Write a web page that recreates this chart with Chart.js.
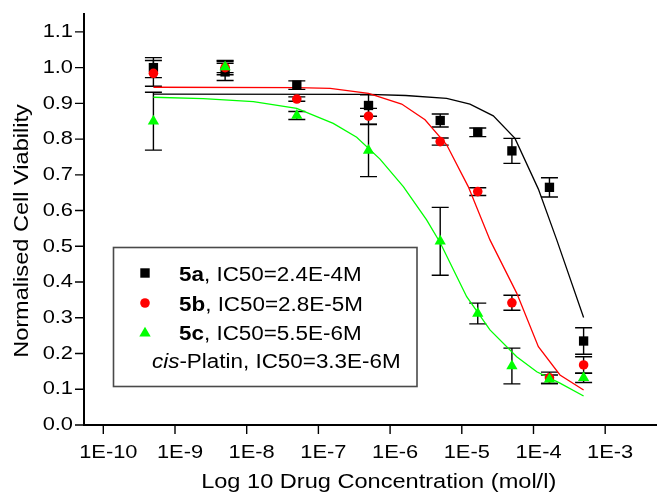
<!DOCTYPE html>
<html>
<head>
<meta charset="utf-8">
<script src="https://cdn.jsdelivr.net/npm/chart.js@4.4.1/dist/chart.umd.min.js"></script>
<style>
html,body{margin:0;padding:0;overflow:hidden;background:#fff}
canvas{display:block}
</style>
</head>
<body>
<canvas id="c" width="657" height="494"></canvas>
<script>
// ---------------- data ----------------
const concentrations = [5e-10, 5e-9, 5e-8, 5e-7, 5e-6, 1.67e-5, 5e-5, 1.67e-4, 5e-4];

const viability5a = [1.000, 0.988, 0.951, 0.894, 0.852, 0.819, 0.767, 0.665, 0.235];
const error5a     = [0.028, 0.024, 0.012, 0.030, 0.018, 0.012, 0.035, 0.027, 0.037];
const viability5b = [0.984, 1.000, 0.912, 0.864, 0.793, 0.653, 0.342, 0.132, 0.168];
const error5b     = [0.036, 0.020, 0.006, 0.022, 0.010, 0.011, 0.021, 0.016, 0.023];
const viability5c = [0.850, 1.002, 0.866, 0.768, 0.514, 0.312, 0.165, 0.128, 0.132];
const error5c     = [0.081, 0.016, 0.011, 0.073, 0.095, 0.029, 0.050, 0.012, 0.013];

// fitted curves
const fit5aX = [5e-10, 5e-7, 1.65e-6, 6.15e-6, 1.3e-5, 2.75e-5, 5.52e-5, 1.17e-4, 2.11e-4, 5e-4];
const fit5aY = [0.926, 0.925, 0.922, 0.914, 0.898, 0.865, 0.802, 0.660, 0.518, 0.301];
const fit5bX = [5e-10, 5e-8, 1.46e-7, 5e-7, 1.45e-6, 3.07e-6, 6.15e-6, 1.23e-5, 2.47e-5, 5.83e-5, 1.17e-4, 2.34e-4, 5e-4];
const fit5bY = [0.945, 0.944, 0.942, 0.928, 0.898, 0.854, 0.784, 0.667, 0.518, 0.369, 0.219, 0.140, 0.098];
const fit5cX = [5e-10, 2.48e-9, 1.24e-8, 4.98e-8, 1.61e-7, 3.42e-7, 7.23e-7, 1.53e-6, 3.23e-6, 5e-6, 1.17e-5, 2.47e-5, 5.83e-5, 1.11e-4, 2.34e-4, 5e-4];
const fit5cY = [0.917, 0.913, 0.905, 0.886, 0.844, 0.805, 0.744, 0.667, 0.574, 0.510, 0.359, 0.266, 0.191, 0.149, 0.117, 0.081];

// ticks
const xMajorTicks = [1e-10, 1e-9, 1e-8, 1e-7, 1e-6, 1e-5, 1e-4, 1e-3];
const xTickLabels = ['1E-10', '1E-9', '1E-8', '1E-7', '1E-6', '1E-5', '1E-4', '1E-3'];
const yTickValues = [0, 0.1, 0.2, 0.3, 0.4, 0.5, 0.6, 0.7, 0.8, 0.9, 1.0, 1.1];
const yTickLabels = ['0.0', '0.1', '0.2', '0.3', '0.4', '0.5', '0.6', '0.7', '0.8', '0.9', '1.0', '1.1'];

// legend
const legendCompounds = ['5a', '5b', '5c'];
const legendIC50 = ['2.4E-4M', '2.8E-5M', '5.5E-6M'];
const cisplatinIC50 = '3.3E-6M';

const xTitle = 'Log 10 Drug Concentration (mol/l)';
const yTitle = 'Normalised Cell Viability';

// ---------------- style ----------------
const FONT = '"Liberation Sans", Arial, Helvetica, sans-serif';
const STRETCH = 1.15;
const xMin = 5.38e-11, xMax = 5.28e-3;
const yMin = 0, yMax = 1.15;

const canvas = document.getElementById('c');
const ctx = canvas.getContext('2d');
// wide Helvetica look: stretch every text run horizontally around its anchor
(function (c) {
  const f = c.fillText.bind(c), m = c.measureText.bind(c);
  c.fillText = function (t, x, y, mw) {
    c.save(); c.translate(x, y); c.scale(STRETCH, 1);
    if (mw === undefined || mw === null || !isFinite(mw)) f(t, 0, 0); else f(t, 0, 0, mw / STRETCH);
    c.restore();
  };
  c.measureText = function (t) {
    const r = m(t);
    return {
      width: r.width * STRETCH,
      actualBoundingBoxAscent: r.actualBoundingBoxAscent,
      actualBoundingBoxDescent: r.actualBoundingBoxDescent,
      actualBoundingBoxLeft: r.actualBoundingBoxLeft * STRETCH,
      actualBoundingBoxRight: r.actualBoundingBoxRight * STRETCH,
      fontBoundingBoxAscent: r.fontBoundingBoxAscent,
      fontBoundingBoxDescent: r.fontBoundingBoxDescent
    };
  };
})(ctx);

const close = (a, b) => Math.abs(a - b) <= Math.abs(b) * 1e-6 + 1e-12;
const xTickValues = [];
for (let e = -11; e <= -3; e++) {
  for (let k = 1; k <= 9; k++) {
    const v = k * Math.pow(10, e);
    if (v >= xMin && v <= xMax) xTickValues.push(v);
  }
}
const yAllTicks = [];
for (let i = 0; i <= 23; i++) yAllTicks.push(Math.round(i * 5) / 100);

const isMajorX = v => xMajorTicks.some(m => close(v, m));
const isMajorY = v => yTickValues.some(m => Math.abs(v - m) < 1e-9);

const pts = (xs, ys) => xs.map((x, i) => ({ x: x, y: ys[i] }));

const errorSeries = [
  { values: viability5a, errors: error5a },
  { values: viability5b, errors: error5b },
  { values: viability5c, errors: error5c }
];

const decorations = {
  id: 'decorations',
  beforeDatasetsDraw(chart) {
    const { ctx: c, scales: { x, y } } = chart;
    c.save();
    c.strokeStyle = '#000';
    c.lineWidth = 1.4;
    errorSeries.forEach(s => {
      concentrations.forEach((conc, i) => {
        const px = x.getPixelForValue(conc);
        const top = y.getPixelForValue(s.values[i] + s.errors[i]);
        const bot = y.getPixelForValue(s.values[i] - s.errors[i]);
        c.beginPath();
        c.moveTo(px, top); c.lineTo(px, bot);
        c.moveTo(px - 8.5, top); c.lineTo(px + 8.5, top);
        c.moveTo(px - 8.5, bot); c.lineTo(px + 8.5, bot);
        c.stroke();
      });
    });
    c.restore();
  },
  afterDraw(chart) {
    const { ctx: c, scales: { x, y }, chartArea: a } = chart;
    c.save();
    // tick marks
    c.strokeStyle = '#000';
    c.lineWidth = 1.4;
    c.beginPath();
    x.ticks.forEach(t => {
      const px = x.getPixelForValue(t.value);
      if (px < a.left + 1 || px > a.right + 0.5) return;
      const len = isMajorX(t.value) ? 8 : 5;
      c.moveTo(px, a.bottom + 1); c.lineTo(px, a.bottom + 1 + len);
    });
    y.ticks.forEach(t => {
      const py = y.getPixelForValue(t.value);
      const len = isMajorY(t.value) ? 8 : 5;
      c.moveTo(a.left - 1, py); c.lineTo(a.left - 1 - len, py);
    });
    c.stroke();

    // axis titles
    c.fillStyle = '#000';
    c.font = '20.5px ' + FONT;
    c.textAlign = 'center';
    c.textBaseline = 'alphabetic';
    c.fillText(xTitle, 378.7, 487.5);
    c.save();
    c.translate(28.3, 231);
    c.rotate(-Math.PI / 2);
    c.fillText(yTitle, 0, 0);
    c.restore();

    // legend box
    const bx = 113.5, by = 247.5, bw = 303.5, bh = 139;
    c.fillStyle = '#fff';
    c.fillRect(bx, by, bw, bh);
    c.strokeStyle = '#4a4a4a';
    c.lineWidth = 1.6;
    c.strokeRect(bx, by, bw, bh);

    const rows = [273, 303, 332];
    const baselines = [281, 310.5, 340];
    const colors = ['#000000', '#ff0000', '#00ff00'];
    const mx = 145;
    // markers
    c.fillStyle = colors[0];
    c.fillRect(mx - 4.7, rows[0] - 4.7, 9.4, 9.4);
    c.fillStyle = colors[1];
    c.beginPath(); c.arc(mx, rows[1], 4.8, 0, Math.PI * 2); c.fill();
    c.fillStyle = colors[2];
    c.beginPath();
    c.moveTo(mx, rows[2] - 5.3); c.lineTo(mx + 5.7, rows[2] + 4.6); c.lineTo(mx - 5.7, rows[2] + 4.6);
    c.closePath(); c.fill();

    c.fillStyle = '#000';
    c.textAlign = 'left';
    c.textBaseline = 'alphabetic';
    legendCompounds.forEach((name, i) => {
      c.font = 'bold 19.5px ' + FONT;
      c.fillText(name, 179, baselines[i]);
      const w = c.measureText(name).width;
      c.font = '19.5px ' + FONT;
      c.fillText(', IC50=' + legendIC50[i], 179 + w, baselines[i]);
    });
    c.font = 'italic 19.5px ' + FONT;
    c.fillText('cis', 152, 368);
    const wc = c.measureText('cis').width;
    c.font = '19.5px ' + FONT;
    c.fillText('-Platin, IC50=' + cisplatinIC50, 152 + wc, 368);
    c.restore();
  }
};

new Chart(ctx, {
  type: 'scatter',
  data: {
    datasets: [
      { type: 'scatter', label: '5c', data: pts(concentrations, viability5c),
        pointStyle: 'triangle', pointRadius: 6.5, pointBackgroundColor: '#00ff00', pointBorderColor: '#00ff00', pointBorderWidth: 0 },
      { type: 'scatter', label: '5b', data: pts(concentrations, viability5b),
        pointStyle: 'circle', pointRadius: 4.8, pointBackgroundColor: '#ff0000', pointBorderColor: '#ff0000', pointBorderWidth: 0 },
      { type: 'scatter', label: '5a', data: pts(concentrations, viability5a),
        pointStyle: 'rect', pointRadius: 6.6, pointBackgroundColor: '#000000', pointBorderColor: '#000000', pointBorderWidth: 0 },
      { type: 'line', label: '5c fit', data: pts(fit5cX, fit5cY), borderColor: '#00ff00', borderWidth: 1.3,
        pointRadius: 0, tension: 0, fill: false },
      { type: 'line', label: '5b fit', data: pts(fit5bX, fit5bY), borderColor: '#ff0000', borderWidth: 1.3,
        pointRadius: 0, tension: 0, fill: false },
      { type: 'line', label: '5a fit', data: pts(fit5aX, fit5aY), borderColor: '#000000', borderWidth: 1.3,
        pointRadius: 0, tension: 0, fill: false }
    ]
  },
  options: {
    responsive: false,
    animation: false,
    devicePixelRatio: 1,
    events: [],
    layout: { autoPadding: false, padding: { top: 14, right: 0, bottom: 0, left: 0 } },
    plugins: { legend: { display: false }, tooltip: { enabled: false }, title: { display: false } },
    scales: {
      x: {
        type: 'logarithmic', min: xMin, max: xMax, bounds: 'data',
        afterBuildTicks: s => { s.ticks = xTickValues.map(v => ({ value: v })); },
        afterFit: s => { s.height = 69; },
        grid: { display: true, drawOnChartArea: false, drawTicks: true, tickLength: 16, color: 'rgba(0,0,0,0)' },
        border: { display: true, color: '#000', width: 2 },
        title: { display: false },
        ticks: {
          autoSkip: false, maxRotation: 0, minRotation: 0, padding: 0, labelOffset: 5, color: '#000',
          font: { family: FONT, size: 19 },
          callback: v => {
            const i = xMajorTicks.findIndex(m => close(v, m));
            return i >= 0 ? xTickLabels[i] : null;
          }
        }
      },
      y: {
        type: 'linear', min: yMin, max: yMax,
        afterBuildTicks: s => { s.ticks = yAllTicks.map(v => ({ value: v })); },
        afterFit: s => { s.width = 84; },
        grid: { display: true, drawOnChartArea: false, drawTicks: true, tickLength: 11, color: 'rgba(0,0,0,0)' },
        border: { display: true, color: '#000', width: 2 },
        title: { display: false },
        ticks: {
          autoSkip: false, padding: 0, color: '#000',
          font: { family: FONT, size: 19 },
          callback: v => {
            const i = yTickValues.findIndex(m => Math.abs(v - m) < 1e-9);
            return i >= 0 ? yTickLabels[i] : null;
          }
        }
      }
    }
  },
  plugins: [decorations]
});
</script>
</body>
</html>
